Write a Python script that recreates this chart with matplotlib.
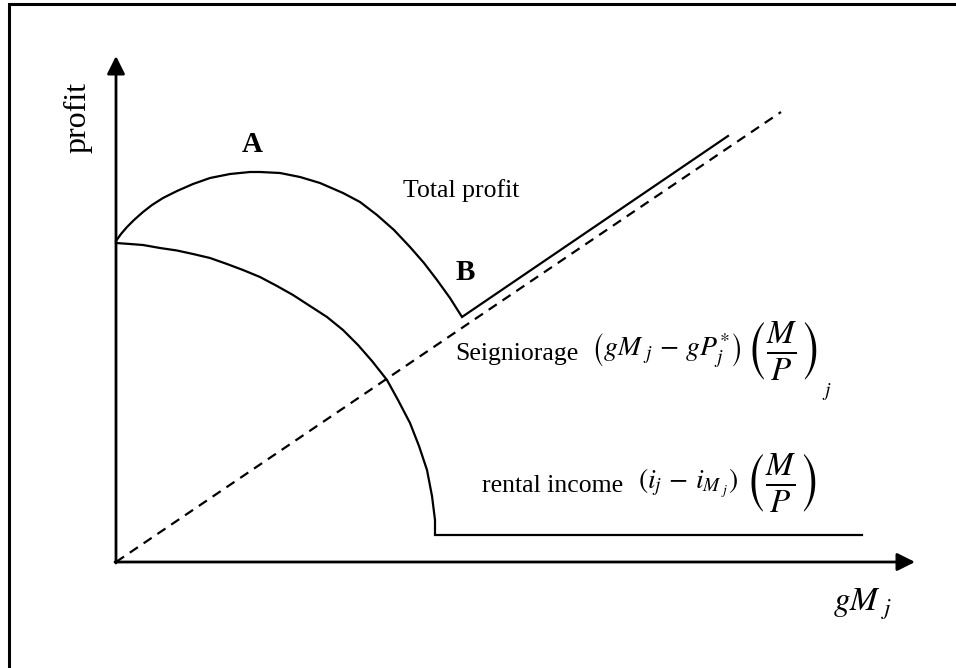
import matplotlib
matplotlib.use("Agg")
import matplotlib.pyplot as plt

plt.rcParams['font.family'] = ['Liberation Serif', 'DejaVu Serif']
plt.rcParams['mathtext.fontset'] = 'stix'
plt.rcParams['lines.scale_dashes'] = False

# ---- data (arbitrary units) ----
gm_total = [0, 5, 11, 18, 27, 36, 47, 61, 77, 94, 114, 134, 144, 164, 184, 204,
            227, 244, 261, 278, 294, 308, 321, 334, 346, 612]
total_profit = [321, 328, 335, 342, 350, 357, 364, 371, 378, 384, 388, 390, 390,
                389, 385, 379, 369, 360, 347, 332, 315, 299, 282, 264, 245, 426]

gm_rent = [0, 14, 27, 44, 61, 77, 94, 111, 127, 144, 161, 177, 194, 211, 227,
           242, 256, 271, 282, 294, 303, 311, 316, 319, 319, 746]
rental_income = [319, 318, 317, 314, 311.5, 308, 304, 298, 292, 285, 276, 267,
                 256, 245, 232, 217, 201, 182, 162, 139, 116, 92, 66, 42, 27, 27]

gm_seig = [0, 665]
seigniorage = [0, 450]

# ---- figure ----
fig = plt.figure(figsize=(9.56, 6.68), dpi=100)
ax = fig.add_axes([0, 0, 1, 1])
ax.set_xlim(-116, 840)
ax.set_ylim(-106, 562)
ax.axis('off')

# outer border (left and top edges)
ax.plot([-107, -107, 845], [-120, 558, 558], color='black', lw=2.2,
        solid_joinstyle='miter', clip_on=False)

# axes with arrows
arrow = dict(arrowstyle='-|>', mutation_scale=27, lw=2, color='black',
             shrinkA=0, shrinkB=0)
ax.annotate('', xy=(0, 506), xytext=(0, -1), arrowprops=arrow)
ax.annotate('', xy=(799, 0), xytext=(-1, 0), arrowprops=arrow)

# curves
ax.plot(gm_total, total_profit, color='black', lw=1.6, solid_joinstyle='miter')
ax.plot(gm_rent, rental_income, color='black', lw=1.6, solid_joinstyle='miter')
ax.plot(gm_seig, seigniorage, color='black', lw=1.6, dashes=(7, 5))

# labels
ax.text(-38, 445, 'profit', rotation=90, fontsize=23, ha='center', va='center')
ax.text(136, 417, 'A', fontsize=21, fontweight='bold', ha='center', va='center')
ax.text(349, 289, 'B', fontsize=21, fontweight='bold', ha='center', va='center')
ax.text(287, 365, 'Total profit', fontsize=18.5, ha='left', va='baseline')

ax.text(339, 202, 'Seigniorage', fontsize=18.5, ha='left', va='baseline')
ax.text(475, 212, r'$\left(gM_{\ j}\,-\,gP_j^{*}\right)$',
        fontsize=20, ha='left', va='center')
ax.text(629, 212, r'$\left(\frac{M}{P}\right)$',
        fontsize=34, ha='left', va='center')
ax.text(706, 170, r'$j$', fontsize=14, ha='left', va='center')

ax.text(366, 70, 'rental income', fontsize=18.5, ha='left', va='baseline')
ax.text(522, 79, r'$(i_j\,-\,i_{M_{\ j}})$',
        fontsize=20, ha='left', va='center')
ax.text(628, 79, r'$\left(\frac{M}{P}\right)$',
        fontsize=34, ha='left', va='center')

ax.text(717, -48, r'$gM_{\ j}$', fontsize=24, ha='left', va='baseline')

fig.savefig('out.png', dpi=100)
